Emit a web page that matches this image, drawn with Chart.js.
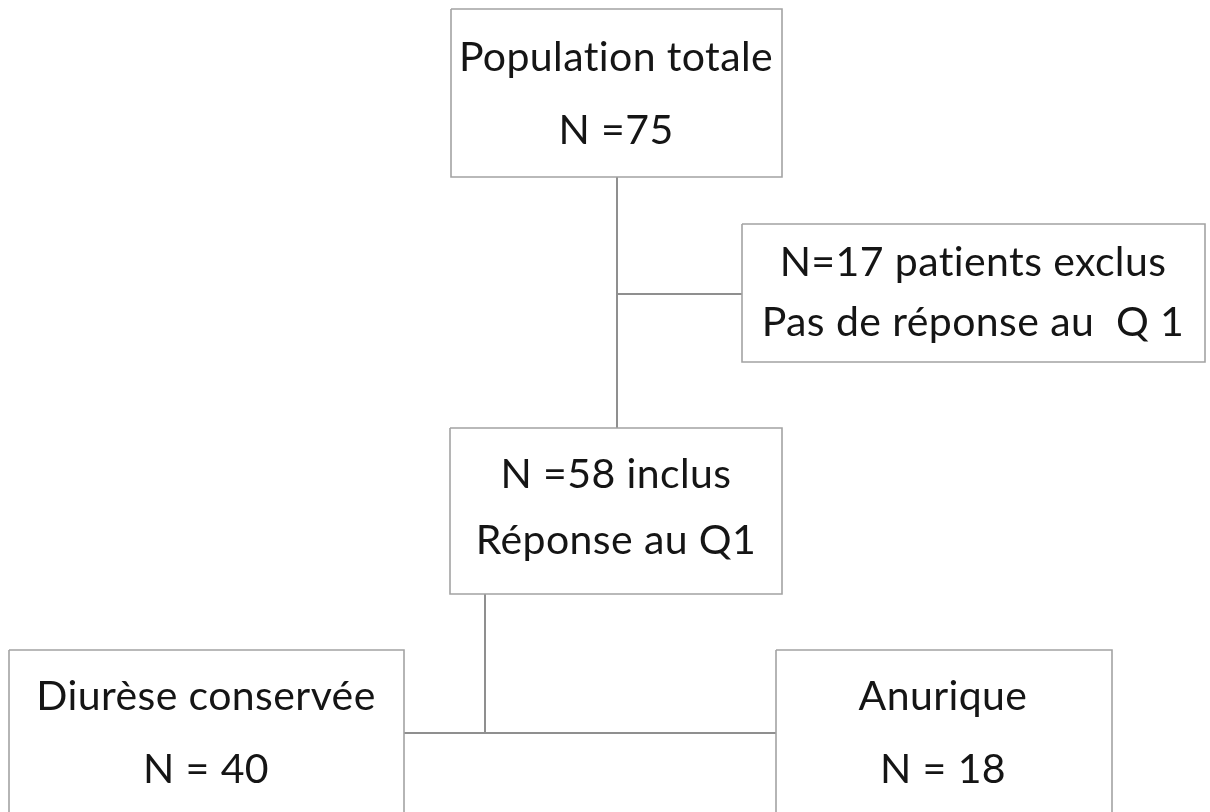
<!DOCTYPE html>
<html>
<head>
<meta charset="utf-8">
<script src="https://cdn.jsdelivr.net/npm/chart.js@4/dist/chart.umd.min.js"></script>
<style>
html,body{margin:0;padding:0;background:#fff;}
#wrap{width:1210px;height:812px;}
</style>
</head>
<body>
<div id="wrap"><canvas id="c" width="1210" height="812"></canvas></div>
<script>
// ---- data ----
const nodeNames = ["total", "exclus", "inclus", "diurese", "anurique"];
const nodeCounts = [75, 17, 58, 40, 18];
const nodeLine1 = ["Population totale", "N=17 patients exclus", "N =58 inclus", "Diurèse conservée", "Anurique"];
const nodeLine2 = ["N =75", "Pas de réponse au  Q 1", "Réponse au Q1", "N = 40", "N = 18"];

// ---- layout (data units of the hidden x/y scales) ----
const boxes = [
  {x0: 451, x1: 782, y0: 9,   y1: 177, t1: 58,  t2: 131, cx: 616},
  {x0: 742, x1: 1205, y0: 224, y1: 362, t1: 263, t2: 323, cx: 973},
  {x0: 450, x1: 782, y0: 428, y1: 594, t1: 475, t2: 541, cx: 616},
  {x0: 9,   x1: 404, y0: 650, y1: 830, t1: 697, t2: 770, cx: 206},
  {x0: 776, x1: 1112, y0: 650, y1: 830, t1: 697, t2: 770, cx: 943}
];
const connectors = [
  [[617, 177], [617, 428]],
  [[617, 294], [742, 294]],
  [[485, 594], [485, 733]],
  [[404, 733], [776, 733]]
];

const datasets = [];
boxes.forEach((b, i) => {
  datasets.push({
    label: nodeNames[i],
    data: [{x: b.x0, y: b.y0}, {x: b.x1, y: b.y0}, {x: b.x1, y: b.y1}, {x: b.x0, y: b.y1}, {x: b.x0, y: b.y0}],
    borderColor: '#a3a3a3', borderWidth: 1.6, pointRadius: 0, showLine: true, fill: false, tension: 0
  });
});
connectors.forEach((c, i) => {
  datasets.push({
    label: 'link' + i,
    data: c.map(p => ({x: p[0], y: p[1]})),
    borderColor: '#8f8f8f', borderWidth: 2, pointRadius: 0, showLine: true, fill: false, tension: 0
  });
});

const textPlugin = {
  id: 'boxText',
  afterDatasetsDraw(chart) {
    const ctx = chart.ctx, xs = chart.scales.x, ys = chart.scales.y;
    ctx.save();
    ctx.fillStyle = '#151515';
    ctx.font = '41px Lato, "Open Sans", sans-serif';
    if ('letterSpacing' in ctx) ctx.letterSpacing = '0.4px';
    ctx.textAlign = 'center';
    ctx.textBaseline = 'middle';
    boxes.forEach((b, i) => {
      const px = xs.getPixelForValue(b.cx);
      ctx.fillText(nodeLine1[i], px, ys.getPixelForValue(b.t1));
      ctx.fillText(nodeLine2[i], px, ys.getPixelForValue(b.t2));
    });
    ctx.restore();
  }
};

new Chart(document.getElementById('c'), {
  type: 'scatter',
  data: {datasets},
  options: {
    responsive: false,
    animation: false,
    layout: {padding: 0},
    plugins: {legend: {display: false}, tooltip: {enabled: false}},
    scales: {
      x: {type: 'linear', min: 0, max: 1210, display: false},
      y: {type: 'linear', min: 0, max: 812, reverse: true, display: false}
    }
  },
  plugins: [textPlugin]
});
</script>
</body>
</html>
